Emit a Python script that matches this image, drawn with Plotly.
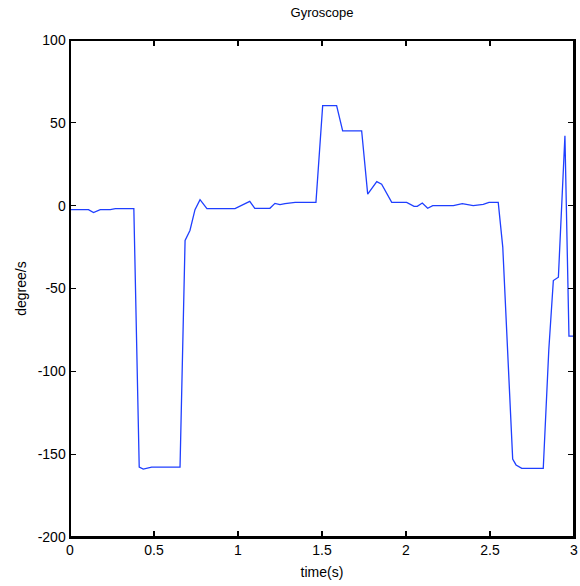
import plotly.graph_objects as go

time_s = [0, 0.11, 0.14, 0.18, 0.24, 0.27, 0.38, 0.412, 0.436, 0.486, 0.655,
          0.685, 0.714, 0.744, 0.774, 0.815, 0.982, 1.02, 1.07, 1.10, 1.19,
          1.22, 1.25, 1.28, 1.34, 1.464, 1.504, 1.587, 1.623, 1.736, 1.772,
          1.826, 1.855, 1.915, 2.004, 2.048, 2.067, 2.097, 2.129, 2.159, 2.282,
          2.335, 2.40, 2.46, 2.494, 2.549, 2.576, 2.635, 2.655, 2.689, 2.817,
          2.85, 2.877, 2.907, 2.946, 2.97, 3.0]
gyro_deg_s = [-2.4, -2.4, -4.2, -2.4, -2.4, -1.8, -1.8, -157.8, -159, -157.8, -157.8,
              -21, -15, -2.4, 3.6, -1.8, -1.8, 0, 2.6, -1.6, -1.6,
              1.4, 0.6, 1.2, 2, 2, 60.4, 60.4, 45.2, 45.2, 7,
              14.5, 13, 2, 2, -0.4, -0.4, 1.6, -1.6, 0, 0,
              1.2, 0, 0.8, 2, 2, -25, -153, -156.5, -158.6, -158.6,
              -87, -45.2, -43.2, 42.2, -78.7, -78.7]

x_ticks = [0, 0.5, 1, 1.5, 2, 2.5, 3]
x_tick_labels = ["0", "0.5", "1", "1.5", "2", "2.5", "3"]
y_ticks = [-200, -150, -100, -50, 0, 50, 100]
y_tick_labels = ["-200", "-150", "-100", "-50", "0", "50", "100"]
x_range = [0, 3]
y_range = [-200, 100]

fig = go.Figure()
fig.add_trace(go.Scatter(x=time_s, y=gyro_deg_s, mode="lines",
                         line=dict(color="#1f3fff", width=1.3),
                         showlegend=False, hoverinfo="skip"))

font = dict(family="Liberation Sans, Arial, sans-serif", size=14, color="black")
axis_common = dict(showgrid=False, zeroline=False, showline=True, linecolor="black",
                   linewidth=1.5, mirror="ticks", ticks="inside", ticklen=6, tickwidth=1.2,
                   tickcolor="black", tickfont=font, automargin=False)

fig.update_layout(
    width=580, height=586,
    margin=dict(l=70, r=6, t=40, b=49, autoexpand=False),
    paper_bgcolor="white", plot_bgcolor="white",
    font=font,
    title=dict(text="Gyroscope", xref="paper", x=0.5, xanchor="center",
               yref="container", y=0.979, yanchor="middle",
               font=dict(family="Liberation Sans, Arial, sans-serif", size=13, color="black")),
    xaxis=dict(range=x_range, tickvals=x_ticks, ticktext=x_tick_labels,
               title=dict(text="time(s)", standoff=10, font=font), **axis_common),
    yaxis=dict(range=y_range, tickvals=y_ticks, ticktext=y_tick_labels,
               title=dict(text="degree/s", standoff=8, font=font), **axis_common),
    shapes=[dict(type="rect", xref="paper", yref="paper", x0=0, x1=1, y0=0, y1=1,
                 line=dict(color="black", width=2), layer="above")],
)

fig.write_html("out.html", config={"displayModeBar": False, "staticPlot": True},
               post_script="document.body.style.margin='0px';document.body.style.overflow='hidden';")
